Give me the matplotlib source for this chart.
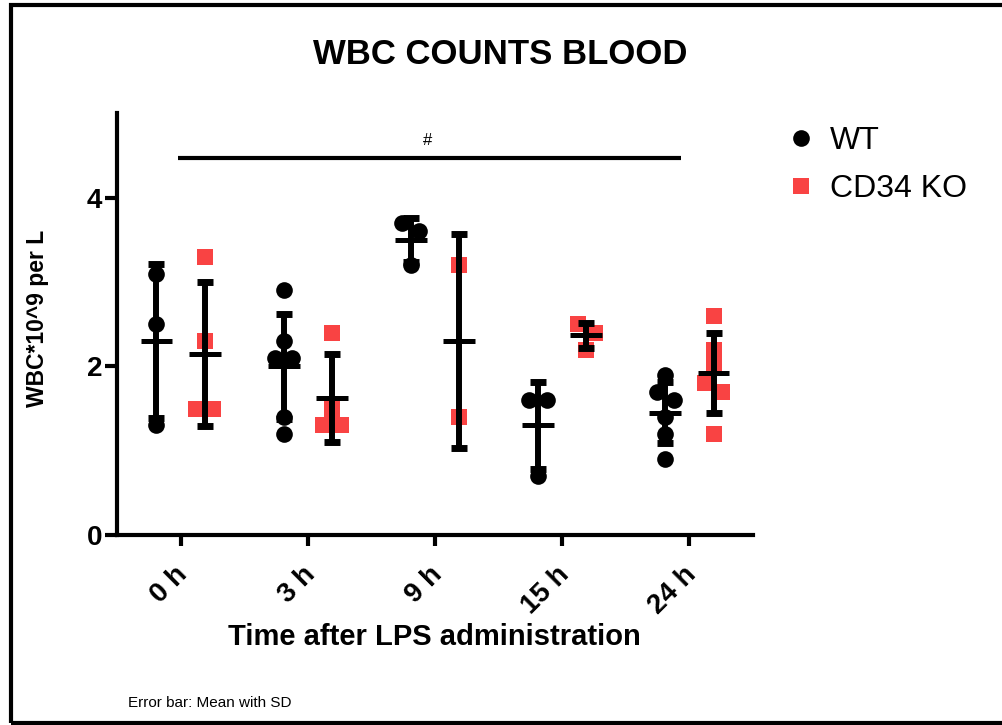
"""WBC counts in blood after LPS, WT vs CD34 KO (scatter with mean +/- SD)."""
import numpy as np
import matplotlib
matplotlib.use("Agg")
import matplotlib.pyplot as plt
from matplotlib.lines import Line2D
from matplotlib.patches import Rectangle
from matplotlib.transforms import ScaledTranslation

plt.rcParams["font.family"] = ["Liberation Sans", "DejaVu Sans"]

# ── data (WBC * 10^9 per L) ─────────────────────────────────────────────
time_labels = ["0 h", "3 h", "9 h", "15 h", "24 h"]

wt_values = [
    [3.1, 2.5, 1.3],
    [2.9, 2.3, 2.1, 2.1, 1.4, 1.2],
    [3.7, 3.6, 3.2],
    [1.6, 1.6, 0.7],
    [1.9, 1.7, 1.6, 1.4, 1.2, 0.9],
]
ko_values = [
    [3.3, 2.3, 1.5, 1.5],
    [2.4, 1.5, 1.3, 1.3],
    [3.2, 1.4],
    [2.5, 2.4, 2.2],
    [2.6, 2.2, 2.0, 1.8, 1.7, 1.2],
]

sig_label = "#"
sig_span = (0, 4)      # from "0 h" to "24 h"
sig_level = 4.47

# ── style ───────────────────────────────────────────────────────────────
BLACK = "#000000"
RED = "#F94343"
GROUP_OFF = 0.19
DOT_W = 0.135     # marker width in x units
ROW_TOL = 0.15    # values closer than this sit side by side


def swarm(values):
    """Prism-like spread: near-equal values are put side by side."""
    vals = sorted(values, reverse=True)
    xs, ys = [], []
    row = []
    for v in vals + [None]:
        if row and (v is None or abs(row[0] - v) >= ROW_TOL):
            n = len(row)
            for k, rv in enumerate(row):
                xs.append((k - (n - 1) / 2) * DOT_W)
                ys.append(rv)
            row = []
        if v is not None:
            row.append(v)
    return np.array(xs), np.array(ys)


fig = plt.figure(figsize=(10.02, 7.25), dpi=100, facecolor="white")
ax = fig.add_axes([0.1168, 0.2621, 0.6347, 0.5814])

pos = np.arange(len(time_labels))
groups = [(wt_values, -GROUP_OFF, "o", BLACK), (ko_values, GROUP_OFF, "s", RED)]

for values, off, marker, color in groups:
    means = np.array([np.mean(v) for v in values])
    sds = np.array([np.std(v, ddof=1) for v in values])
    for i, v in enumerate(values):
        dx, yy = swarm(v)
        ax.plot(pos[i] + off + dx, yy, linestyle="none", marker=marker,
                markersize=12, color=color, markeredgewidth=0, zorder=2)
    ax.errorbar(pos + off, means, yerr=sds, fmt="none", ecolor=BLACK,
                elinewidth=4.3, capsize=6, capthick=5, zorder=3)
    ax.hlines(means, pos + off - 0.125, pos + off + 0.125, color=BLACK,
              linewidth=3.6, zorder=3)

# significance bar
ax.plot([sig_span[0] - 0.02, sig_span[1] - 0.07], [sig_level, sig_level],
        color=BLACK, linewidth=3, solid_capstyle="butt", zorder=3)
ax.text(1.945, sig_level + 0.12, sig_label, ha="center", va="bottom",
        fontsize=12, color=BLACK)

ax.set_xlim(-0.5, 4.5)
ax.set_ylim(0, 5)
ax.set_yticks([0, 2, 4])
ax.set_xticks(pos)
ax.set_xticklabels(time_labels, rotation=45, ha="right", va="top",
                   rotation_mode="anchor", fontsize=20, fontweight="bold")
ax.tick_params(axis="y", labelsize=20, width=3, length=8.5, pad=2)
ax.tick_params(axis="x", width=3, length=8, pad=11)
shift = ScaledTranslation(-6 / 100, 0, fig.dpi_scale_trans)
for lab in ax.get_xticklabels():
    lab.set_transform(lab.get_transform() + shift)
for lab in ax.get_yticklabels():
    lab.set_fontweight("bold")
for side in ["top", "right"]:
    ax.spines[side].set_visible(False)
for side in ["left", "bottom"]:
    ax.spines[side].set_linewidth(3)

# ── texts ───────────────────────────────────────────────────────────────
fig.text(0.499, 0.9255, "WBC COUNTS BLOOD", ha="center", va="center",
         fontsize=25, fontweight="bold")
fig.text(0.434, 0.121, "Time after LPS administration", ha="center",
         va="center", fontsize=21, fontweight="bold")
fig.text(0.037, 0.561, "WBC*10^9 per L", ha="center", va="center",
         rotation=90, fontsize=16.5, fontweight="bold")
fig.text(0.128, 0.030, "Error bar: Mean with SD", ha="left", va="center",
         fontsize=11)

# ── legend ──────────────────────────────────────────────────────────────
for y, marker, color, label in [(0.810, "o", BLACK, "WT"),
                                (0.743, "s", RED, "CD34 KO")]:
    fig.add_artist(Line2D([0.7995], [y], marker=marker, markersize=12,
                          color=color, markeredgewidth=0,
                          transform=fig.transFigure))
    fig.text(0.828, y - 0.004, label, ha="left", va="center", fontsize=23)

# ── outer frame ─────────────────────────────────────────────────────────
fig.patches.append(Rectangle((0.011, 0.003), 1.2, 0.990,
                             transform=fig.transFigure, fill=False,
                             edgecolor=BLACK, linewidth=3))

fig.savefig("out.png", dpi=100, facecolor="white")
